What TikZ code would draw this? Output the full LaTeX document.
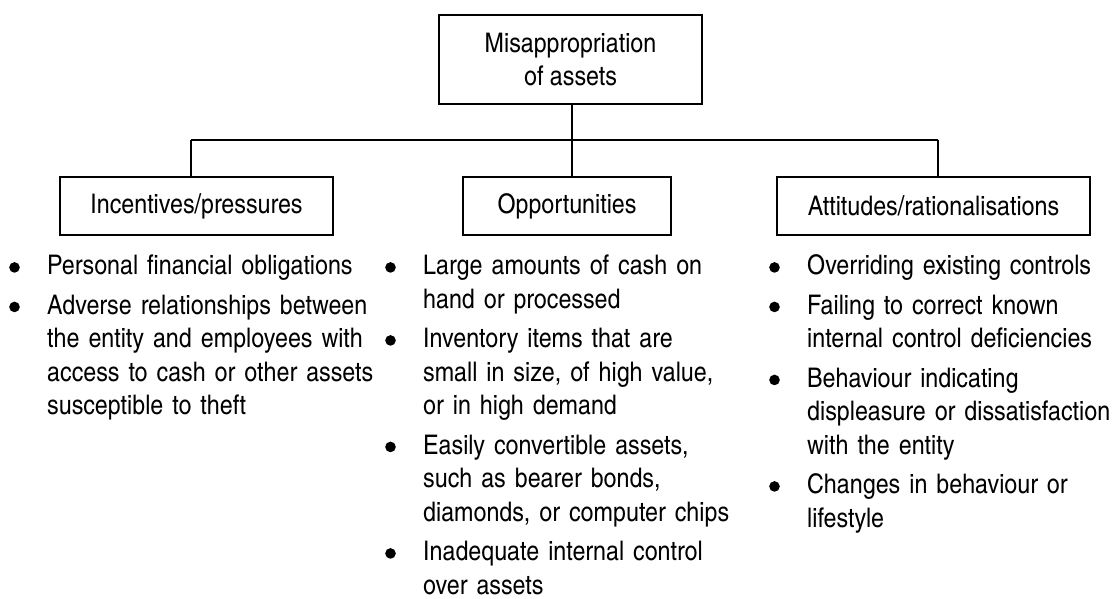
\documentclass[tikz,border=0pt]{standalone}
\usepackage{fontspec}
\IfFontExistsTF{texgyreheroscn-regular.otf}
  {\setmainfont[FakeStretch=1.05]{texgyreheroscn-regular.otf}}
  {\setmainfont[FakeStretch=0.86]{TeX Gyre Heros}}
\newcommand\bigbul{\tikz[x=1cm,y=1cm,baseline=-0.5ex]\fill (0,0) circle[radius=5.3pt];}
\newcommand\firstbul[1]{\noindent\makebox[36pt][l]{\hspace{-2pt}\bigbul}\parbox[t]{330pt}{\raggedright #1\strut}\par\prevdepth=\dp\strutbox}
\newcommand\bul[1]{\vspace{6pt}\firstbul{#1}}
\begin{document}
\begin{tikzpicture}[x=1pt,y=-1pt,
  every node/.style={font=\fontsize{27}{33.5}\selectfont},
  box/.style={draw,line width=1.3pt,inner sep=0pt,align=center},
  list/.style={anchor=base west,inner sep=0pt,text width=370pt,align=left},
  conn/.style={line width=1.3pt}]
\useasboundingbox (0,0) rectangle (1114,599);
\node[box,minimum width=263pt,minimum height=89pt] (top) at (570.5,59.5) {Misappropriation\\of assets};
\node[box,minimum width=273pt,minimum height=58pt] (inc) at (196.5,206) {Incentives/pressures};
\node[box,minimum width=208pt,minimum height=58pt] (opp) at (567,206) {Opportunities};
\node[box,minimum width=313pt,minimum height=58pt] (att) at (933.5,206) {Attitudes/rationalisations};
\coordinate (ci) at (191,140);
\coordinate (co) at (572,140);
\coordinate (ca) at (938,140);
\draw[conn] (top.south -| co) -- (co);
\draw[conn] (ci) -- (ca);
\draw[conn] (ci) -- (ci |- inc.north);
\draw[conn] (co) -- (co |- opp.north);
\draw[conn] (ca) -- (ca |- att.north);
\node[list] (l1) at (11,274.5) {%
\firstbul{Personal financial obligations}
\bul{Adverse relationships between\\the entity and employees with\\access to cash or other assets\\susceptible to theft}};
\node[list] (l2) at (387,274.5) {%
\firstbul{Large amounts of cash on\\hand or processed}
\bul{Inventory items that are\\small in size, of high value,\\or in high demand}
\bul{Easily convertible assets,\\such as bearer bonds,\\diamonds, or computer chips}
\bul{Inadequate internal control\\over assets}};
\node[list] (l3) at (771,274.5) {%
\firstbul{Overriding existing controls}
\bul{Failing to correct known\\internal control deficiencies}
\bul{Behaviour indicating\\displeasure or dissatisfaction\\with the entity}
\bul{Changes in behaviour or\\lifestyle}};
\end{tikzpicture}
\end{document}
